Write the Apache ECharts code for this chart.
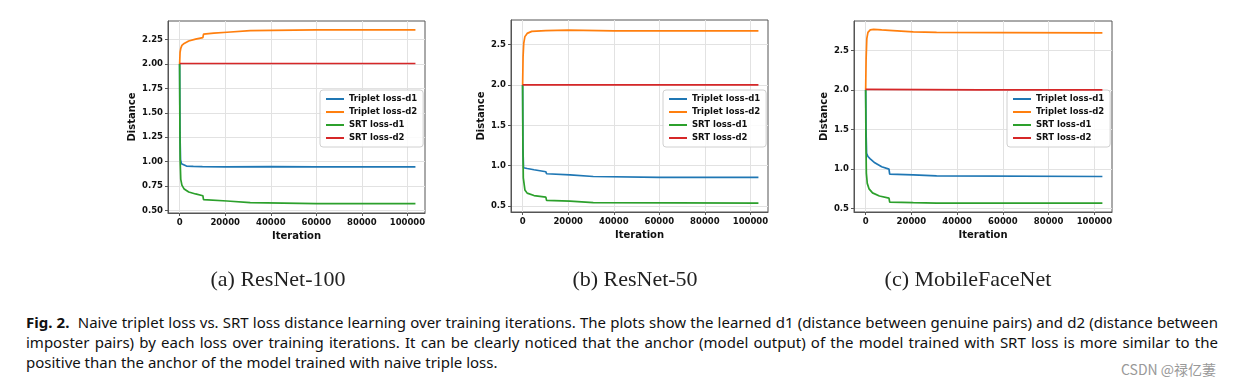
<!DOCTYPE html>
<html>
<head>
<meta charset="utf-8">
<script src="https://cdn.jsdelivr.net/npm/echarts@6/dist/echarts.min.js"></script>
<style>
html,body{margin:0;padding:0;background:#fff;width:1237px;height:386px;overflow:hidden;position:relative;}
#chart{position:absolute;left:0;top:0;width:1237px;height:300px;}
#caption{position:absolute;left:26px;top:312px;width:1192px;font-family:"Noto Sans",sans-serif;font-size:15px;line-height:20px;color:#111;}
#caption .ln{white-space:nowrap;text-align:justify;text-align-last:justify;}
#caption .last{white-space:nowrap;text-align:left;}
#wm{position:absolute;left:1121px;top:359px;font-family:"Noto Sans CJK SC","Noto Sans",sans-serif;font-size:14px;color:#999;}
</style>
</head>
<body>
<div id="chart"></div>
<div id="caption"><div class="ln"><b>Fig. 2.</b>&nbsp; Naive triplet loss vs. SRT loss distance learning over training iterations. The plots show the learned d1 (distance between genuine pairs) and d2 (distance between</div><div class="ln">imposter pairs) by each loss over training iterations. It can be clearly noticed that the anchor (model output) of the model trained with SRT loss is more similar to the</div><div class="last">positive than the anchor of the model trained with naive triple loss.</div></div>
<div id="wm">CSDN @禄亿萋</div>
<script>
// ---- data ----
const seriesNames = ['Triplet loss-d1', 'Triplet loss-d2', 'SRT loss-d1', 'SRT loss-d2'];
const subCaptions = ['(a) ResNet-100', '(b) ResNet-50', '(c) MobileFaceNet'];
const xTicks = [0, 20000, 40000, 60000, 80000, 100000];
const yTicksA = [0.5, 0.75, 1.0, 1.25, 1.5, 1.75, 2.0, 2.25];
const yTicksB = [0.5, 1.0, 1.5, 2.0, 2.5];
const yTicksC = [0.5, 1.0, 1.5, 2.0, 2.5];

// (a) ResNet-100: [iteration, distance]
const r100TripletD1 = [[0,2.0],[150,1.3],[400,1.02],[800,0.98],[1500,0.965],[3000,0.955],[6000,0.952],[10000,0.95],[20000,0.948],[40000,0.95],[60000,0.948],[80000,0.947],[103500,0.947]];
const r100TripletD2 = [[0,2.0],[200,2.12],[500,2.16],[1000,2.19],[2000,2.21],[4000,2.235],[7000,2.255],[10200,2.27],[10500,2.305],[15000,2.315],[20800,2.325],[21000,2.335],[31000,2.342],[31500,2.348],[60000,2.35],[103500,2.35]];
const r100SrtD1 = [[0,2.0],[100,1.4],[250,1.0],[500,0.82],[1000,0.76],[2000,0.72],[4000,0.69],[7000,0.67],[10200,0.652],[10500,0.612],[20800,0.598],[21000,0.588],[31000,0.582],[31500,0.575],[60000,0.571],[103500,0.57]];
const r100SrtD2 = [[0,2.005],[103500,2.005]];

// (b) ResNet-50
const r50TripletD1 = [[0,2.0],[150,1.2],[400,0.975],[2000,0.965],[5000,0.95],[10200,0.925],[10500,0.9],[20800,0.885],[21000,0.875],[31000,0.866],[31500,0.858],[60000,0.855],[103500,0.854]];
const r50TripletD2 = [[0,2.0],[200,2.35],[500,2.52],[1000,2.6],[2000,2.64],[4000,2.665],[10200,2.675],[10500,2.682],[20000,2.68],[40000,2.672],[103500,2.67]];
const r50SrtD1 = [[0,2.0],[100,1.3],[300,0.85],[1000,0.7],[2000,0.66],[5000,0.63],[10200,0.61],[10500,0.57],[20800,0.561],[21000,0.55],[31000,0.543],[31500,0.537],[103500,0.535]];
const r50SrtD2 = [[0,2.003],[103500,2.003]];

// (c) MobileFaceNet
const mfnTripletD1 = [[0,2.0],[150,1.5],[400,1.2],[1000,1.16],[2000,1.13],[4000,1.08],[7000,1.03],[10200,1.0],[10500,0.937],[20800,0.928],[21000,0.922],[31000,0.916],[31500,0.91],[103500,0.907]];
const mfnTripletD2 = [[0,2.0],[200,2.4],[500,2.65],[1000,2.73],[2000,2.76],[3500,2.768],[7000,2.76],[10200,2.755],[10500,2.742],[20800,2.735],[21000,2.73],[31000,2.728],[60000,2.725],[103500,2.723]];
const mfnSrtD1 = [[0,2.0],[100,1.4],[300,0.95],[700,0.82],[1500,0.75],[3000,0.7],[6000,0.66],[10200,0.633],[10500,0.584],[20800,0.576],[21000,0.572],[31000,0.57],[103500,0.57]];
const mfnSrtD2 = [[0,2.008],[50000,2.003],[103500,2.002]];

// ---- layout / style ----
const colors = ['#1f77b4', '#ff7f0e', '#2ca02c', '#d62728'];
const panels = [
  {grid:{left:168, top:21, width:257, height:192}, y:[0.475, 2.44], yTicks:yTicksA, dec:2, nameGap:31, legend:{left:320, top:90}, cap:278, data:[r100TripletD1, r100TripletD2, r100SrtD1, r100SrtD2]},
  {grid:{left:511, top:20, width:257, height:192}, y:[0.426, 2.806], yTicks:yTicksB, dec:1, nameGap:25, legend:{left:663, top:90}, cap:635, data:[r50TripletD1, r50TripletD2, r50SrtD1, r50SrtD2]},
  {grid:{left:854, top:21, width:258, height:191}, y:[0.458, 2.873], yTicks:yTicksC, dec:1, nameGap:25, legend:{left:1007, top:90}, cap:968, data:[mfnTripletD1, mfnTripletD2, mfnSrtD1, mfnSrtD2]}
];
const tickFont = {fontFamily:'DejaVu Sans', fontWeight:'bold', fontSize:8.5, color:'#111'};
const spine = '#555';

const option = {
  animation:false,
  backgroundColor:'#fff',
  color:colors,
  grid:[], xAxis:[], yAxis:[], series:[], legend:[], graphic:[]
};
panels.forEach((p, i) => {
  option.grid.push(Object.assign({show:true, borderColor:spine, borderWidth:1, containLabel:false}, p.grid));
  option.xAxis.push({
    type:'value', gridIndex:i, min:-5100, max:107700,
    name:'Iteration', nameLocation:'middle', nameGap:14,
    nameTextStyle:{fontFamily:'DejaVu Sans', fontWeight:'bold', fontSize:10, color:'#111'},
    axisLine:{show:true, onZero:false, lineStyle:{color:spine}},
    axisTick:{show:true, length:3, inside:false, customValues:xTicks, lineStyle:{color:spine}},
    axisLabel:Object.assign({customValues:xTicks, margin:5, formatter:v => String(v)}, tickFont),
    splitLine:{show:true, lineStyle:{color:'#e2e2e2', width:1}}
  });
  option.yAxis.push({
    type:'value', gridIndex:i, min:p.y[0], max:p.y[1],
    name:'Distance', nameLocation:'middle', nameGap:p.nameGap, nameRotate:90,
    nameTextStyle:{fontFamily:'DejaVu Sans', fontWeight:'bold', fontSize:10, color:'#111'},
    axisLine:{show:true, onZero:false, lineStyle:{color:spine}},
    axisTick:{show:true, length:3, inside:false, customValues:p.yTicks, lineStyle:{color:spine}},
    axisLabel:Object.assign({customValues:p.yTicks, margin:5, formatter:v => v.toFixed(p.dec)}, tickFont),
    splitLine:{show:true, lineStyle:{color:'#e2e2e2', width:1}}
  });
  p.data.forEach((d, k) => {
    option.series.push({
      type:'line', name:seriesNames[k], xAxisIndex:i, yAxisIndex:i, data:d,
      showSymbol:false, symbol:'none', lineStyle:{width:1.7, color:colors[k]}, itemStyle:{color:colors[k]}, z:2+k
    });
  });
  option.legend.push({
    data:seriesNames, orient:'vertical', left:p.legend.left, top:p.legend.top,
    icon:'rect', itemWidth:18, itemHeight:2, itemGap:3,
    padding:[4,6,4,6], backgroundColor:'rgba(255,255,255,0.85)', borderColor:'#d0d0d0', borderWidth:1, borderRadius:3,
    textStyle:{fontFamily:'DejaVu Sans', fontWeight:'bold', fontSize:8.5, color:'#111', lineHeight:10},
    selectedMode:false
  });
  option.graphic.push({
    type:'text', x:p.cap, y:280,
    style:{text:subCaptions[i], font:'22px "Liberation Serif", serif', fill:'#222', textAlign:'center', textVerticalAlign:'middle'}
  });
});
const chart = echarts.init(document.getElementById('chart'), null, {renderer:'canvas'});
chart.setOption(option);
</script>
</body>
</html>
